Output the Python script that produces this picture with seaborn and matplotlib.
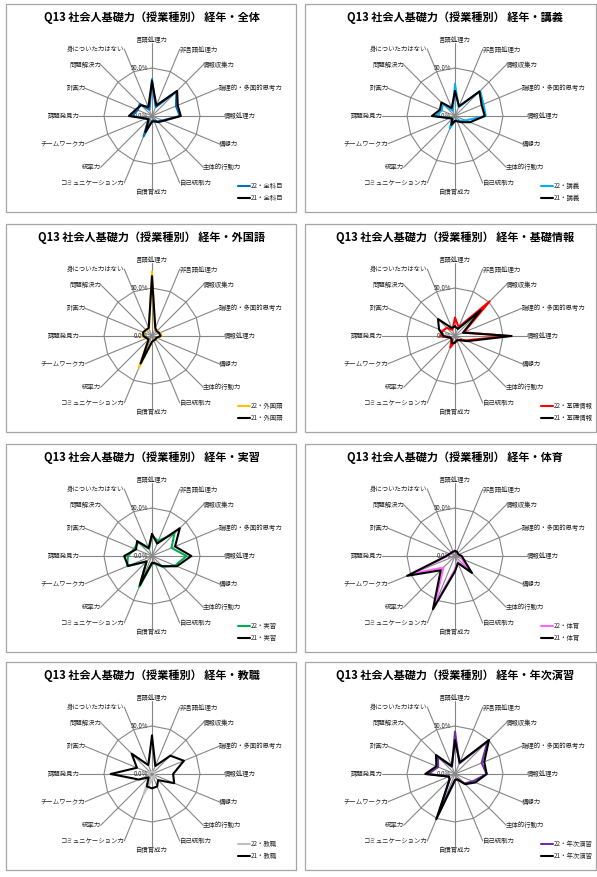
"""Q13 社会人基礎力（授業種別） 経年 — 8 radar panels."""

import numpy as np
import matplotlib
matplotlib.use("Agg")
import matplotlib.pyplot as plt
from matplotlib.lines import Line2D
from matplotlib.patches import Rectangle
import seaborn as sns

sns.set_theme(style="white")
plt.rcParams["font.family"] = ["Noto Sans CJK JP", "DejaVu Sans"]

# ---- data (percent) ----
categories = [
    "言語処理力", "非言語処理力", "情報収集力", "論理的・多面的思考力",
    "情報処理力", "構想力", "主体的行動力", "自己統制力", "自信育成力",
    "コミュニケーション力", "統率力", "チームワーク力", "課題発見力",
    "計画力", "問題解決力", "身についた力はない",
]

panel_names = ["全科目", "講義", "外国語", "基礎情報", "実習", "体育", "教職", "年次演習"]
title_names = ["全体", "講義", "外国語", "基礎情報", "実習", "体育", "教職", "年次演習"]
colors_22 = ["#0070C0", "#00B0F0", "#FFC000", "#FF0000", "#00B050", "#FF66FF", "#BFBFBF", "#7030A0"]

zenkamoku_22 = [38, 10, 36, 27, 29, 12, 8, 5, 5, 23, 5, 7, 21, 16, 18, 7]
zenkamoku_21 = [36, 12, 37, 29, 30, 13, 9, 6, 6, 18, 5, 7, 24, 18, 16, 10]
kougi_22 = [33, 10, 37, 32, 32, 12, 7, 5, 5, 14, 4, 6, 20, 15, 18, 6]
kougi_21 = [26, 11, 36, 30, 31, 17, 9, 6, 5, 10, 4, 6, 24, 17, 20, 9]
gaikokugo_22 = [67, 8, 8, 9, 10, 6, 5, 5, 6, 36, 5, 6, 11, 9, 8, 8]
gaikokugo_21 = [62, 9, 7, 8, 9, 5, 5, 5, 6, 31, 5, 6, 9, 10, 9, 9]
kiso_22 = [19, 10, 51, 10, 55, 12, 6, 5, 6, 13, 5, 5, 15, 14, 12, 7]
kiso_21 = [10, 8, 38, 9, 59, 14, 6, 5, 7, 8, 5, 5, 12, 18, 25, 9]
jisshu_22 = [21, 17, 33, 22, 36, 26, 16, 9, 8, 35, 8, 28, 25, 20, 20, 8]
jisshu_21 = [23, 14, 41, 26, 41, 28, 15, 8, 7, 33, 8, 27, 29, 18, 22, 9]
taiiku_22 = [6, 5, 4, 4, 6, 8, 18, 7, 14, 56, 17, 48, 8, 5, 5, 5]
taiiku_21 = [5, 5, 4, 4, 7, 10, 25, 8, 16, 60, 21, 54, 9, 6, 5, 5]
kyoshoku_22 = [3, 2, 3, 3, 3, 3, 3, 3, 6, 23, 3, 3, 3, 3, 3, 2]
kyoshoku_21 = [40, 9, 27, 36, 22, 25, 9, 14, 15, 14, 5, 15, 43, 17, 30, 10]
nenji_22 = [44, 12, 48, 30, 33, 20, 14, 6, 7, 45, 8, 7, 28, 19, 25, 8]
nenji_21 = [35, 13, 50, 33, 33, 23, 15, 6, 6, 51, 8, 7, 31, 21, 28, 9]

series_22 = [zenkamoku_22, kougi_22, gaikokugo_22, kiso_22, jisshu_22, taiiku_22, kyoshoku_22, nenji_22]
series_21 = [zenkamoku_21, kougi_21, gaikokugo_21, kiso_21, jisshu_21, taiiku_21, kyoshoku_21, nenji_21]

# ---- layout (pixels) ----
W, H = 597, 877
RMAX = 0.76
PX_PER_UNIT = 96.0
grid_col = "#868686"
text_col = "#262626"

fig = plt.figure(figsize=(W / 100, H / 100), dpi=100)
fig.patch.set_facecolor("white")

n = len(categories)
angles = np.linspace(0, 2 * np.pi, n, endpoint=False)
angles_closed = np.append(angles, angles[0] + 2 * np.pi)

box_left = [6, 305]
box_width = [290, 291]
box_top = [4, 224, 444, 662]
box_h = 208
centers_x = [152, 455]


def fx(x):
    return x / W


def fy(y):
    return 1 - y / H


for i in range(8):
    row, col = divmod(i, 2)
    top = box_top[row]
    cx, cy = centers_x[col], top + 112

    fig.add_artist(Rectangle((fx(box_left[col]), fy(top + box_h)), box_width[col] / W, box_h / H,
                             transform=fig.transFigure, fill=False, edgecolor="#A6A6A6", lw=0.9))

    fig.text(fx(cx), fy(top + 14), f"Q13 社会人基礎力（授業種別） 経年・{title_names[i]}",
             ha="center", va="center", fontsize=8, fontweight="bold", color="black")

    rad_px = RMAX * PX_PER_UNIT
    ax = fig.add_axes([fx(cx - rad_px), fy(cy + rad_px), 2 * rad_px / W, 2 * rad_px / H],
                      projection="polar")
    ax.set_theta_zero_location("N")
    ax.set_theta_direction(-1)
    ax.set_ylim(0, RMAX)
    ax.axis("off")

    # spokes and 50% ring
    for a in angles:
        ax.plot([a, a], [0, RMAX], color=grid_col, lw=0.8, zorder=1)
    ax.plot(angles_closed, [0.5] * (n + 1), color=grid_col, lw=0.8, zorder=1)

    # series: 22 first, 21 on top
    for vals, c in [(series_22[i], colors_22[i]), (series_21[i], "black")]:
        r = np.array(vals + [vals[0]]) / 100.0
        sns.lineplot(x=angles_closed, y=r, sort=False, estimator=None, ax=ax,
                     color=c, lw=1.5, legend=False, zorder=3)
    ax.set_xlabel("")
    ax.set_ylabel("")
    ax.axis("off")
    ax.set_ylim(0, RMAX)

    # category labels
    for a, lab in zip(angles, categories):
        s, c = np.sin(a), np.cos(a)
        if abs(s) < 0.1:
            ha = "center"
            va = "bottom" if c > 0 else "top"
        else:
            ha = "left" if s > 0 else "right"
            va = "center"
        ax.text(a, 0.75, lab, ha=ha, va=va, fontsize=4.6, color=text_col, clip_on=False, zorder=5)

    ax.annotate("50.0%", xy=(0, 0.5), xytext=(-3, 0), textcoords="offset points",
                ha="right", va="center", fontsize=4.4, color=text_col, zorder=2)
    ax.annotate("0.0%", xy=(0, 0), xytext=(-3, 0), textcoords="offset points",
                ha="right", va="center", fontsize=4.4, color=text_col, zorder=2)

    # legend
    for k, (lab, c) in enumerate([(f"22・{panel_names[i]}", colors_22[i]), (f"21・{panel_names[i]}", "black")]):
        ly = top + 182 + 12 * k
        fig.add_artist(Line2D([fx(cx + 86), fx(cx + 98)], [fy(ly), fy(ly)],
                              transform=fig.transFigure, color=c, lw=1.5))
        fig.text(fx(cx + 99), fy(ly), lab, ha="left", va="center", fontsize=4.6, color=text_col)

fig.savefig("out.png", dpi=100, facecolor="white")
